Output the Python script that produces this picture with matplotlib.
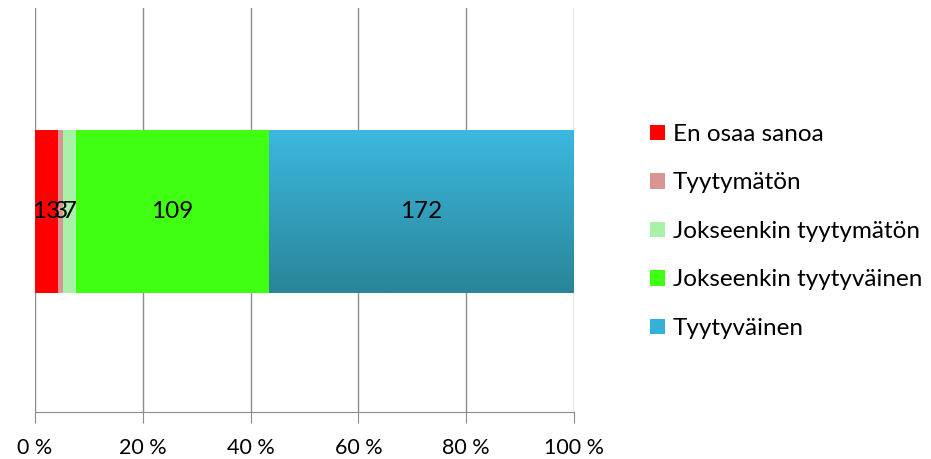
import numpy as np
import matplotlib.pyplot as plt
from matplotlib.colors import LinearSegmentedColormap

# Data
categories = ['En osaa sanoa', 'Tyytymätön', 'Jokseenkin tyytymätön',
              'Jokseenkin tyytyväinen', 'Tyytyväinen']
counts = [13, 3, 7, 109, 172]
colors = ['#FF0000', '#D99594', '#A8F2A8', '#40FF12', '#33B2D9']
tick_labels = ['0 %', '20 %', '40 %', '60 %', '80 %', '100 %']

plt.rcParams['font.family'] = ['Lato', 'DejaVu Sans']

fig = plt.figure(figsize=(9.31, 4.59), dpi=100)
ax = fig.add_axes([35/931, 47/459, 539/931, 404/459])

total = sum(counts)
shares = [c / total for c in counts]
bar_y = 0.496
bar_h = 0.403

left = 0
for cat, s, c, col in zip(categories, shares, counts, colors):
    bars = ax.barh(bar_y, s, height=bar_h, left=left, color=col, label=cat, zorder=3)
    if cat == 'Tyytyväinen':
        # vertical gradient like the original
        cmap = LinearSegmentedColormap.from_list('blue', ['#2A8599', '#3CB8DF'])
        grad = np.linspace(0, 1, 100).reshape(-1, 1)
        im = ax.imshow(grad, extent=[left, left + s, bar_y - bar_h/2, bar_y + bar_h/2],
                       origin='lower', cmap=cmap, aspect='auto', zorder=4)
        im.set_clip_path(bars[0])
    ax.text(left + s/2, bar_y, str(c), ha='center', va='center', fontsize=17.5, zorder=5)
    left += s

ax.set_xlim(0, 1)
ax.set_ylim(0, 1)
ax.set_xticks(np.linspace(0, 1, 6))
ax.set_xticklabels(tick_labels, fontsize=15.5)
ax.set_yticks([])
ax.grid(axis='x', color='#8C8C8C', linewidth=1, zorder=0)
for side in ['top', 'right', 'left']:
    ax.spines[side].set_visible(False)
ax.spines['bottom'].set_color('#8C8C8C')
ax.tick_params(axis='x', length=8, color='#8C8C8C', pad=11)

ax.legend(loc='center left', bbox_to_anchor=(1.141, 0.447), frameon=False,
          fontsize=17.5, handlelength=0.6, handleheight=0.6, handletextpad=0.35,
          labelspacing=1.13, borderpad=0, borderaxespad=0)

fig.savefig('out.png', dpi=100)
